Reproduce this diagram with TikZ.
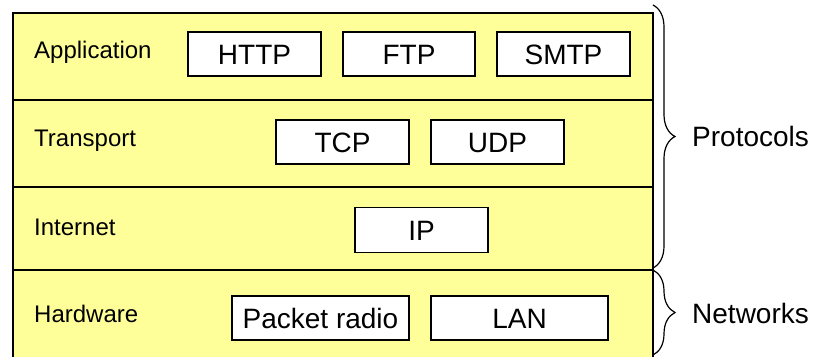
\documentclass[tikz,border=0pt]{standalone}
\usepackage{fontspec}
\setmainfont{Liberation Sans}
\usetikzlibrary{decorations.pathreplacing}
\definecolor{layerfill}{HTML}{FFFF99}
\tikzset{
  layerbox/.style={draw=black, fill=layerfill, line width=1.5pt, minimum width=640pt, inner sep=0pt, anchor=north west},
  protobox/.style={draw=black, fill=white, line width=1.5pt, inner sep=0pt, minimum height=44pt,
    font=\fontsize{28}{30}\selectfont, text height=20pt, text depth=0pt},
  layerlabel/.style={anchor=west, inner sep=0pt, font=\fontsize{24}{26}\selectfont, text height=17.2pt, text depth=0pt},
  sidelabel/.style={anchor=west, inner sep=0pt, font=\fontsize{28}{30}\selectfont, text height=20pt, text depth=0pt},
  bracestyle/.style={decorate, decoration={brace, amplitude=22pt}, line width=1.2pt}
}
\begin{document}
\begin{tikzpicture}[x=1pt, y=-1pt]
\useasboundingbox (0,0) rectangle (816,356);
% layers
\node[layerbox, minimum height=87pt] (lapp) at (12,12) {};
\node[layerbox, minimum height=87pt] (ltra) at (12,99) {};
\node[layerbox, minimum height=83pt] (lint) at (12,186) {};
\node[layerbox, minimum height=89pt] (lhw) at (12,269) {};
% layer labels
\node[layerlabel] (tapp) at (34,49.5) {Application};
\node[layerlabel] (ttra) at (34,138) {Transport};
\node[layerlabel] (tint) at (34,227) {Internet};
\node[layerlabel] (thw) at (34,314) {Hardware};
% protocol boxes
\node[protobox, minimum width=133pt] (http) at (254.5,54) {HTTP};
\node[protobox, minimum width=132pt] (ftp) at (409,54) {FTP};
\node[protobox, minimum width=133pt] (smtp) at (563.5,54) {SMTP};
\node[protobox, minimum width=133pt] (tcp) at (342.5,142) {TCP};
\node[protobox, minimum width=133pt] (udp) at (497.5,142) {UDP};
\node[protobox, minimum width=133pt, minimum height=45pt] (ip) at (421.5,230) {IP};
\node[protobox, minimum width=177pt] (pr) at (320.5,318) {Packet radio};
\node[protobox, minimum width=177pt] (lan) at (519.5,318) {LAN};
% braces
\coordinate (pa) at (653,5);
\coordinate (pb) at (653,268);
\coordinate (na) at (653,270);
\coordinate (nb) at (653,355);
\draw[bracestyle] (pa) -- (pb);
\draw[bracestyle] (na) -- (nb);
\node[sidelabel] (prot) at (692,136.5) {Protocols};
\node[sidelabel] (netw) at (692,313) {Networks};
\end{tikzpicture}
\end{document}
